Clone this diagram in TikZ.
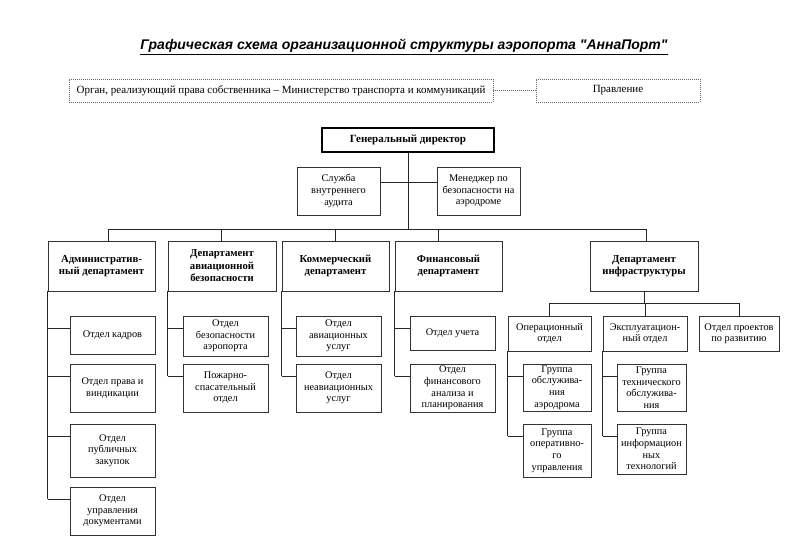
\documentclass[tikz,border=0pt]{standalone}
\usepackage{fontspec}
\setmainfont{Liberation Serif}
\newfontfamily\titlefont{Liberation Sans}
\usetikzlibrary{calc}
\newcommand{\obox}[7][]{\node[box,#1,minimum width={#5-#3},minimum height={#6-#4}] (#2) at ({(#3+#5)/2},{(#4+#6)/2}) {#7};}
\newcommand{\mybranch}[2]{\coordinate (#2b) at ($(#2.north west)+(0,12.5)$); \draw[ln] (#2b -| #1.south west) -- (#2b);}
\newcommand{\mytrunk}[2]{\draw[ln] (#1.south west) -- (#2b -| #1.south west);}
\begin{document}
\begin{tikzpicture}[x=1pt,y=-1pt,
  box/.style={draw=black!80,line width=0.7pt,align=center,inner sep=1pt,font=\fontsize{10.3}{11.6}\selectfont},
  bbox/.style={font=\fontsize{10.7}{12.5}\selectfont\bfseries},
  dbox/.style={draw=black!60,line width=0.7pt,dash pattern=on 1pt off 1pt,align=center,inner sep=0pt,font=\fontsize{11}{12}\selectfont},
  dln/.style={draw=black!60,line width=0.7pt,dash pattern=on 1pt off 1pt},
  ln/.style={draw=black!85,line width=0.7pt}]
\useasboundingbox[fill=white] (0,0) rectangle (792,539);

\node[font=\titlefont\bfseries\itshape\fontsize{14}{16}\selectfont] (title) at (404,47) {\underline{Графическая схема организационной структуры аэропорта "АннаПорт"}};

\node[dbox,minimum width=424,minimum height=23] (own) at (281,90.5) {Орган, реализующий права собственника – Министерство транспорта и коммуникаций};
\node[dbox,minimum width=164,minimum height=23] (prav) at (618,90.5) {Правление};
\draw[dln] (own) -- (prav);

\obox[line width=1.6pt,draw=black,bbox,font=\fontsize{11}{12}\selectfont\bfseries]{gd}{322}{128}{494}{152}{Генеральный директор}
\obox{svc}{297}{167}{380}{215}{Служба\\внутреннего\\аудита}
\obox{mgr}{437}{167}{520}{215}{Менеджер по\\безопасности на\\аэродроме}

\obox[bbox]{adm}{48}{241}{155}{291}{Административ-\\ный департамент}
\obox[bbox]{avb}{168}{241}{276}{291}{Департамент\\авиационной\\безопасности}
\obox[bbox]{com}{282}{241}{389}{291}{Коммерческий\\департамент}
\obox[bbox]{fin}{395}{241}{502}{291}{Финансовый\\департамент}
\obox[bbox]{inf}{590}{241}{698}{291}{Департамент\\инфраструктуры}

\obox{a1}{70}{316}{155}{354}{Отдел кадров}
\obox{a2}{70}{364}{155}{412}{Отдел права и\\виндикации}
\obox{a3}{70}{424}{155}{477}{Отдел\\публичных\\закупок}
\obox{a4}{70}{487}{155}{535}{Отдел\\управления\\документами}
\obox{b1}{183}{316}{268}{356}{Отдел\\безопасности\\аэропорта}
\obox{b2}{183}{364}{268}{412}{Пожарно-\\спасательный\\отдел}
\obox{c1}{296}{316}{381}{356}{Отдел\\авиационных\\услуг}
\obox{c2}{296}{364}{381}{412}{Отдел\\неавиационных\\услуг}
\obox{f1}{410}{316}{495}{350}{Отдел учета}
\obox{f2}{410}{364}{495}{412}{Отдел\\финансового\\анализа и\\планирования}
\obox{op}{508}{316}{591}{351}{Операционный\\отдел}
\obox{ex}{603}{316}{687}{351}{Эксплуатацион-\\ный отдел}
\obox{pr}{699}{316}{779}{351}{Отдел проектов\\по развитию}
\obox{o1}{523}{364}{591}{411}{Группа\\обслужива-\\ния\\аэродрома}
\obox{o2}{523}{424}{591}{477}{Группа\\оперативно-\\го\\управления}
\obox{e1}{617}{364}{686}{411}{Группа\\технического\\обслужива-\\ния}
\obox{e2}{617}{424}{686}{474}{Группа\\информацион\\ных\\технологий}

% top connectors
\coordinate (busL) at (108,229);
\coordinate (busR) at (646,229);
\draw[ln] (busL) -- (busR);
\draw[ln] (gd.south) -- (gd.south |- busL);
\coordinate (sv) at (0,182);
\draw[ln] (svc.east |- sv) -- (mgr.west |- sv);
\coordinate (dA) at (108,229);
\coordinate (dB) at (221,229);
\coordinate (dC) at (335,229);
\coordinate (dF) at (438,229);
\coordinate (dI) at (646,229);
\draw[ln] (dA) -- (dA |- adm.north);
\draw[ln] (dB) -- (dB |- avb.north);
\draw[ln] (dC) -- (dC |- com.north);
\draw[ln] (dF) -- (dF |- fin.north);
\draw[ln] (dI) -- (dI |- inf.north);

% infrastructure sub bus
\coordinate (sb) at (0,303);
\draw[ln] (inf.south) -- (inf.south |- sb);
\draw[ln] (op.north) -- (op.north |- sb) -- (pr.north |- sb) -- (pr.north);
\draw[ln] (ex.north) -- (ex.north |- sb);

% branches
\mybranch{adm}{a1}\mybranch{adm}{a2}\mybranch{adm}{a3}\mybranch{adm}{a4}\mytrunk{adm}{a4}
\mybranch{avb}{b1}\mybranch{avb}{b2}\mytrunk{avb}{b2}
\mybranch{com}{c1}\mybranch{com}{c2}\mytrunk{com}{c2}
\mybranch{fin}{f1}\mybranch{fin}{f2}\mytrunk{fin}{f2}
\mybranch{op}{o1}\mybranch{op}{o2}\mytrunk{op}{o2}
\mybranch{ex}{e1}\mybranch{ex}{e2}\mytrunk{ex}{e2}
\end{tikzpicture}
\end{document}
